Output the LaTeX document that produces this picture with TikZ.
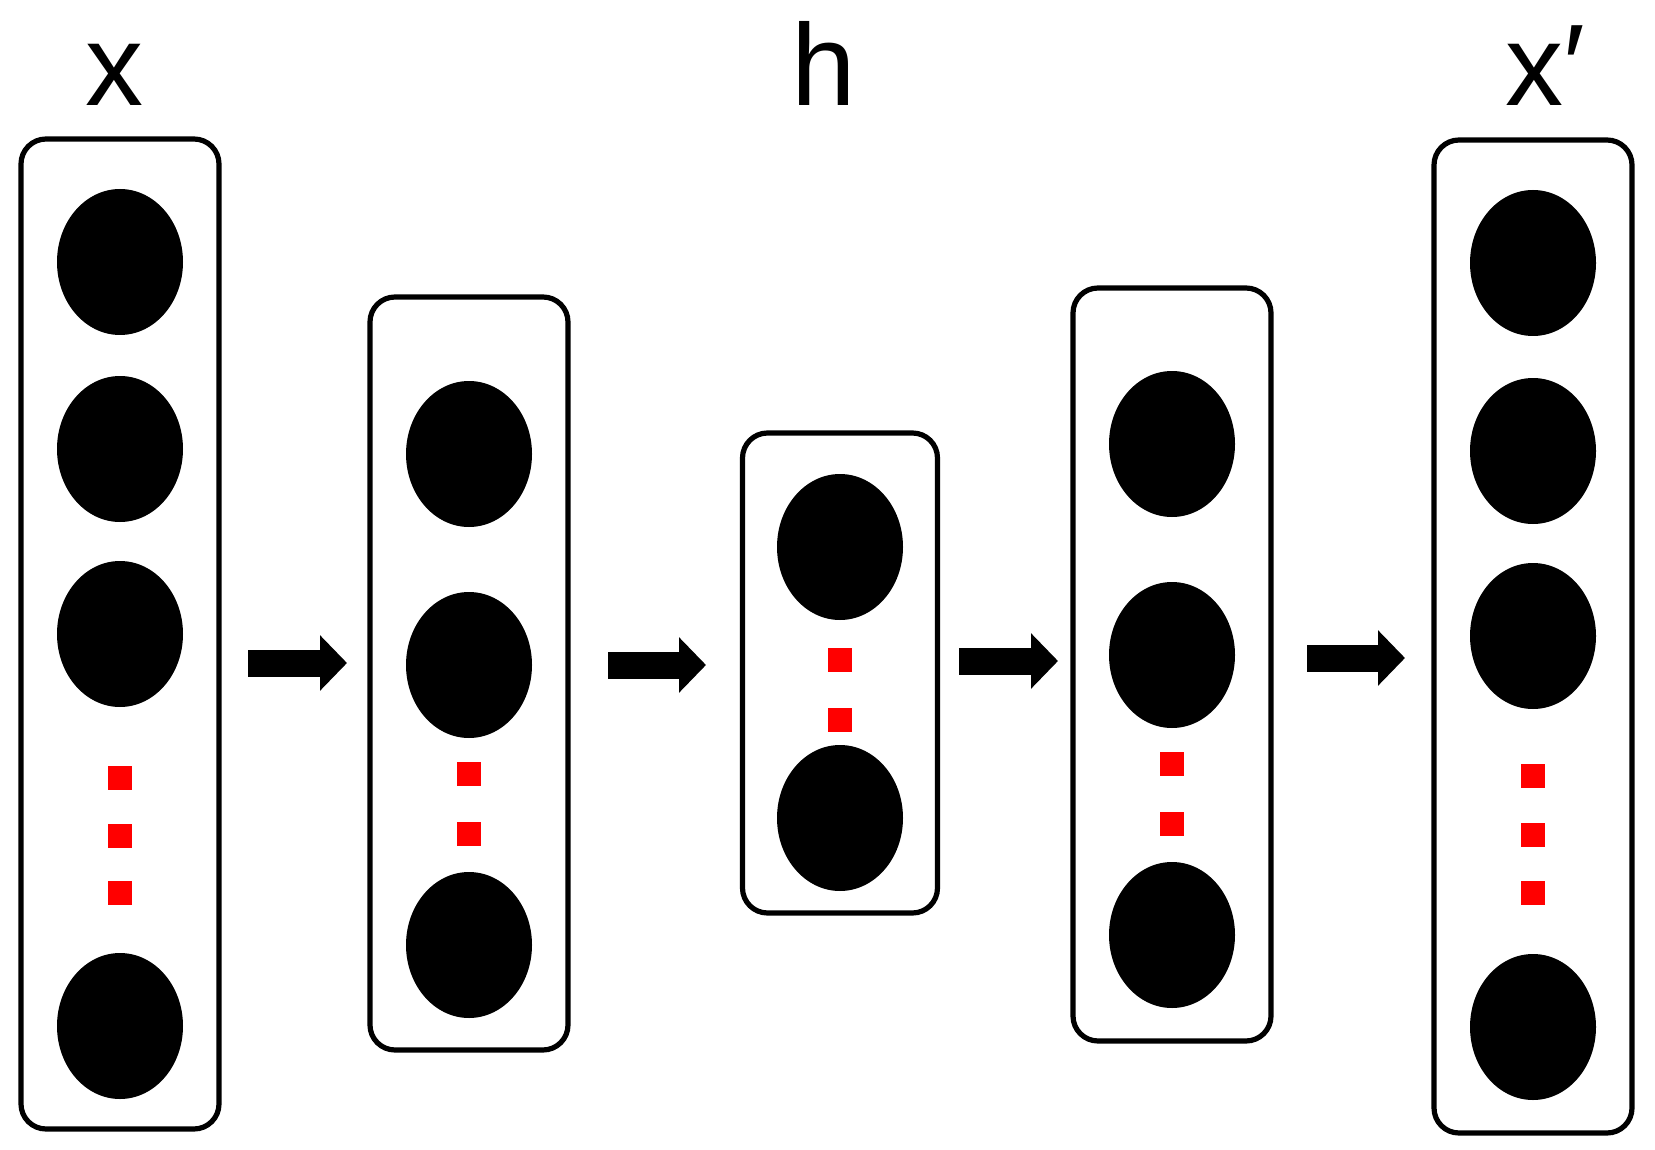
\documentclass[tikz,border=0pt]{standalone}
\usepackage{fontspec}
\setmainfont{Liberation Sans}
\usetikzlibrary{shapes.geometric,arrows.meta}
\begin{document}
\begin{tikzpicture}[x=0.5pt,y=-0.5pt,
  layerbox/.style={draw=black,line width=2.6pt,rounded corners=12.5pt,minimum width=99pt,inner sep=0pt,fill=none},
  neuron/.style={ellipse,fill=black,draw=none,inner sep=0pt,minimum width=63pt,minimum height=73pt},
  dotsq/.style={rectangle,fill=red,draw=none,inner sep=0pt,minimum size=12pt},
  fwdarrow/.style={line width=13.5pt,-{Triangle[length=13.5pt,width=27pt]}},
  lbl/.style={font=\fontsize{58pt}{60pt}\selectfont,inner sep=0pt}
]
\path[use as bounding box,fill=white] (0,0) rectangle (1655,1150);

% labels
\node[lbl,anchor=base] (lx) at (114,106) {x};
\node[lbl,anchor=base] (lh) at (824,106) {h};
\node[lbl,anchor=base west] (lxp) at (1505,106) {x′};

% boxes
\node[layerbox,minimum height=495pt] (b1) at (120,634) {};
\node[layerbox,minimum height=376.5pt] (b2) at (469,673.5) {};
\node[layerbox,minimum width=97.5pt,minimum height=240pt] (b3) at (840,673) {};
\node[layerbox,minimum height=376.5pt] (b4) at (1172,664.5) {};
\node[layerbox,minimum height=496.5pt] (b5) at (1533,636.5) {};

% box 1
\node[neuron] (n11) at (120,262) {};
\node[neuron] (n12) at (120,449) {};
\node[neuron] (n13) at (120,634) {};
\node[dotsq] (d11) at (120,778) {};
\node[dotsq] (d12) at (120,836) {};
\node[dotsq] (d13) at (120,893) {};
\node[neuron] (n14) at (120,1026) {};

% box 2
\node[neuron] (n21) at (469,454) {};
\node[neuron] (n22) at (469,665) {};
\node[dotsq] (d21) at (469,774) {};
\node[dotsq] (d22) at (469,834) {};
\node[neuron] (n23) at (469,945) {};

% box 3
\node[neuron] (n31) at (840,547) {};
\node[dotsq] (d31) at (840,660) {};
\node[dotsq] (d32) at (840,720) {};
\node[neuron] (n32) at (840,818) {};

% box 4
\node[neuron] (n41) at (1172,444) {};
\node[neuron] (n42) at (1172,655) {};
\node[dotsq] (d41) at (1172,764) {};
\node[dotsq] (d42) at (1172,824) {};
\node[neuron] (n43) at (1172,935) {};

% box 5
\node[neuron] (n51) at (1533,263) {};
\node[neuron] (n52) at (1533,451) {};
\node[neuron] (n53) at (1533,636) {};
\node[dotsq] (d51) at (1533,776) {};
\node[dotsq] (d52) at (1533,835) {};
\node[dotsq] (d53) at (1533,893) {};
\node[neuron] (n54) at (1533,1027) {};

% arrows
\coordinate (a1s) at (248,663);  \coordinate (a1e) at (347,663);
\coordinate (a2s) at (608,665);  \coordinate (a2e) at (706,665);
\coordinate (a3s) at (959,661);  \coordinate (a3e) at (1058,661);
\coordinate (a4s) at (1307,658); \coordinate (a4e) at (1405,658);
\draw[fwdarrow] (a1s) -- (a1e);
\draw[fwdarrow] (a2s) -- (a2e);
\draw[fwdarrow] (a3s) -- (a3e);
\draw[fwdarrow] (a4s) -- (a4e);
\end{tikzpicture}
\end{document}
